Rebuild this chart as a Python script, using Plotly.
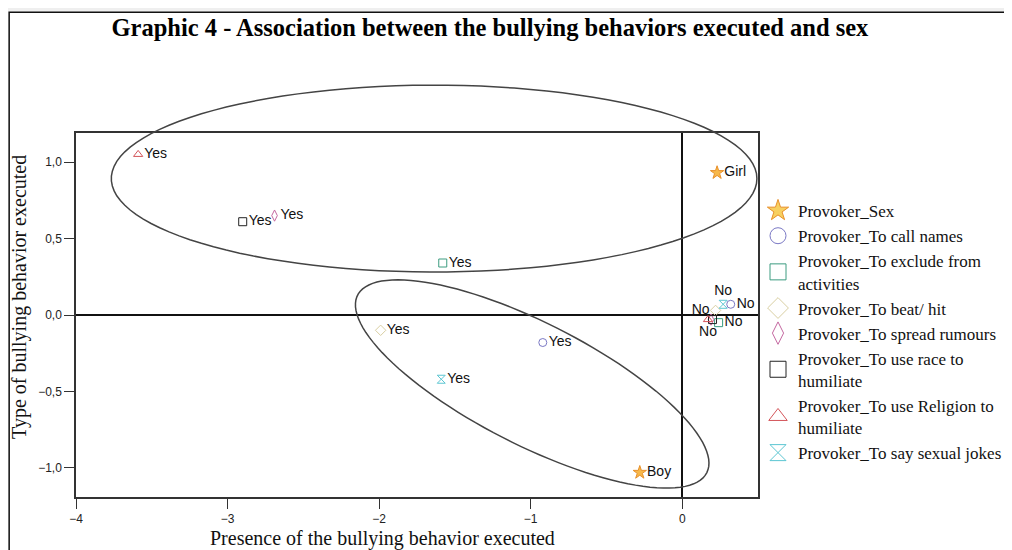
"""Graphic 4 - correspondence map of bullying behaviours executed by sex."""

import numpy as np
import plotly.graph_objects as go

# axis ranges of the map (dimension 1 / dimension 2)
X_RANGE = [-4, 0.5]
Y_RANGE = [-1.19, 1.19]

# Provoker_Sex category points
sex_labels = ["Girl", "Boy"]
sex_x = [0.23, -0.28]
sex_y = [0.93, -1.03]

# behaviour categories ("Yes" / "No" points)
behaviours = [
    "Provoker_To call names",
    "Provoker_To exclude from<br>activities",
    "Provoker_To beat/ hit",
    "Provoker_To spread rumours",
    "Provoker_To use race to<br>humiliate",
    "Provoker_To use Religion to<br>humiliate",
    "Provoker_To say sexual jokes",
]
yes_x = [-0.92, -1.58, -1.99, -2.69, -2.90, -3.59, -1.59]
yes_y = [-0.18, 0.34, -0.10, 0.65, 0.61, 1.05, -0.42]
no_x = [0.32, 0.24, 0.22, 0.19, 0.20, 0.17, 0.27]
no_y = [0.07, -0.05, 0.03, -0.03, -0.03, -0.03, 0.07]
no_text = ["No", "No", "No", "", "", "No", "No"]
no_pos = ["middle right", "middle right", "middle left", "bottom center",
          "bottom center", "bottom center", "top center"]

# marker styles (symbol, colour) per behaviour
styles = [
    ("circle-open", "#7A78C4"),
    ("square-open", "#3C9C80"),
    ("diamond-open", "#D9CFA2"),
    ("diamond-tall-open", "#C467A0"),
    ("square-open", "#222222"),
    ("triangle-up-open", "#D4555A"),
    ("hourglass-open", "#5CC6D2"),
]

SERIF = "Liberation Serif, Times New Roman, serif"
SANS = "Liberation Sans, Arial, sans-serif"


def to_paper(x, y):
    px = (np.asarray(x) - X_RANGE[0]) / (X_RANGE[1] - X_RANGE[0])
    py = (np.asarray(y) - Y_RANGE[0]) / (Y_RANGE[1] - Y_RANGE[0])
    return px, py


def ellipse_path(cx, cy, a, b, angle_deg, n=120):
    t = np.linspace(0, 2 * np.pi, n)
    th = np.radians(angle_deg)
    ex = cx + a * np.cos(t) * np.cos(th) - b * np.sin(t) * np.sin(th)
    ey = cy + a * np.cos(t) * np.sin(th) + b * np.sin(t) * np.cos(th)
    px, py = to_paper(ex, ey)
    pts = [f"{u:.4f},{v:.4f}" for u, v in zip(px, py)]
    return "M" + " L".join(pts) + " Z"


fig = go.Figure()

# Sex points
fig.add_trace(go.Scatter(
    x=sex_x, y=sex_y, text=sex_labels, mode="markers+text",
    textposition="middle right", showlegend=False,
    marker=dict(symbol="star", size=10, color="#F7B84A",
                line=dict(color="#E8902A", width=1)),
    textfont=dict(family=SANS, size=14, color="#111"),
    cliponaxis=False,
))

for i, name in enumerate(behaviours):
    sym, col = styles[i]
    fig.add_trace(go.Scatter(
        x=[yes_x[i], no_x[i]], y=[yes_y[i], no_y[i]],
        text=["Yes", no_text[i]], mode="markers+text",
        textposition=["middle right", no_pos[i]], showlegend=False,
        marker=dict(symbol=sym, size=8, color=col, line=dict(color=col, width=1)),
        textfont=dict(family=SANS, size=14, color="#111"),
        cliponaxis=False,
    ))

# legend entries with large symbols
fig.add_trace(go.Scatter(
    x=[None], y=[None], mode="markers", name="Provoker_Sex",
    marker=dict(symbol="star", size=16, color="#F7D060",
                line=dict(color="#E8902A", width=1)),
))
for i, name in enumerate(behaviours):
    sym, col = styles[i]
    fig.add_trace(go.Scatter(
        x=[None], y=[None], mode="markers", name=name,
        marker=dict(symbol=sym, size=16, color=col, line=dict(color=col, width=1)),
    ))

# hand drawn groupings
fig.add_shape(type="path", xref="paper", yref="paper",
              path=ellipse_path(-1.637, 0.892, 2.13, 0.611, 0),
              line=dict(color="#444", width=1.5))
fig.add_shape(type="path", xref="paper", yref="paper",
              path=ellipse_path(-0.99, -0.451, 1.29, 0.40, -26.7),
              line=dict(color="#444", width=1.5))

# outer frame
fig.add_shape(type="rect", xref="paper", yref="paper",
              x0=-0.098, x1=1.368, y0=-0.25, y1=1.332,
              line=dict(color="#111", width=1.5), fillcolor="white", layer="below")

fig.add_annotation(text="Presence of the bullying behavior executed",
                   xref="paper", yref="paper", x=0.45, y=-0.113,
                   xanchor="center", yanchor="middle",
                   showarrow=False, font=dict(family=SERIF, size=20, color="#111"))
fig.add_annotation(text="Type of bullying behavior executed",
                   xref="paper", yref="paper", x=-0.082, y=0.55, textangle=-90,
                   xanchor="center", yanchor="middle",
                   showarrow=False, font=dict(family=SERIF, size=20, color="#111"))

fig.update_layout(
    width=1004, height=542,
    title=dict(text="<b>Graphic 4 - Association between the bullying behaviors executed and sex</b>",
               x=0.480, xref="container", y=0.965, yref="container",
               xanchor="center", yanchor="middle",
               font=dict(family=SERIF, size=24.5, color="#000")),
    margin=dict(l=68, r=254, t=125, b=53, autoexpand=False),
    paper_bgcolor="#EFEFEF",
    plot_bgcolor="rgba(0,0,0,0)",
    separators=", ",
    legend=dict(x=1.0, xanchor="left", y=0.835, yanchor="top",
                font=dict(family=SERIF, size=17, color="#111"),
                bgcolor="rgba(0,0,0,0)"),
)
fig.update_xaxes(range=X_RANGE, dtick=1, showgrid=False,
                 zeroline=True, zerolinecolor="#111", zerolinewidth=1.5,
                 showline=True, mirror=True, linecolor="#333", linewidth=1.5,
                 ticks="outside", ticklen=10, tickcolor="#333",
                 tickfont=dict(family=SANS, size=12, color="#222"))
fig.update_yaxes(range=Y_RANGE, dtick=0.5, tickformat=".1f", showgrid=False,
                 zeroline=True, zerolinecolor="#111", zerolinewidth=1.5,
                 showline=True, mirror=True, linecolor="#333", linewidth=1.5,
                 ticks="outside", ticklen=10, tickcolor="#333",
                 tickfont=dict(family=SANS, size=12, color="#222"))

fig.write_html("out.html")
